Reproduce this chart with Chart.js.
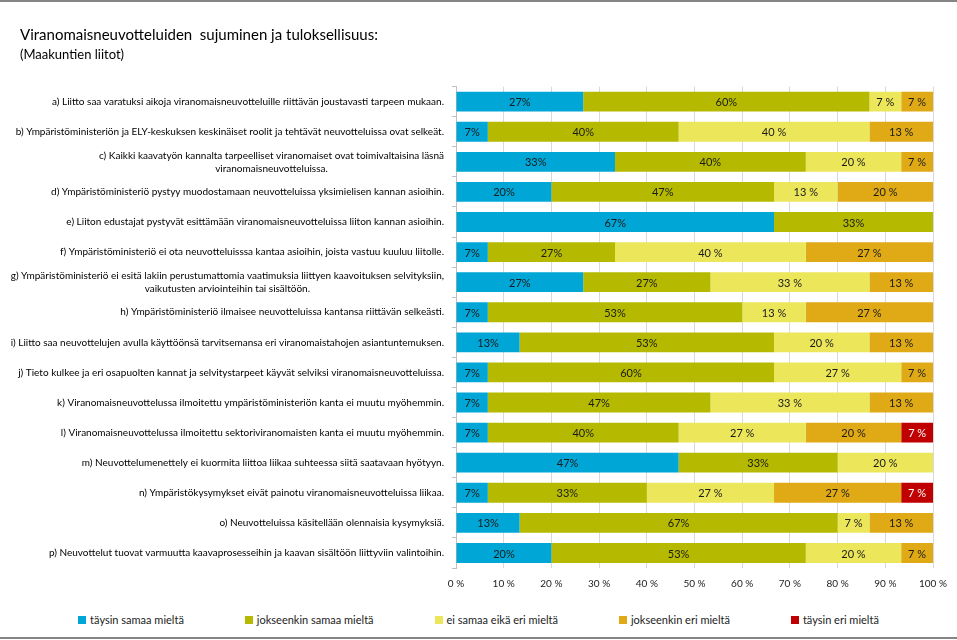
<!DOCTYPE html>
<html>
<head>
<meta charset="utf-8">
<script src="https://cdn.jsdelivr.net/npm/chart.js@4.4.1/dist/chart.umd.min.js"></script>
<style>
  body { margin: 0; background: #fff; }
  #wrap { position: relative; width: 957px; height: 640px; overflow: hidden; font-family: Lato, sans-serif; }
  .rule { position: absolute; left: 0; width: 957px; height: 2px; background: #858585; }
  #legend { position: absolute; top: 613px; left: 0; width: 957px; display: flex; justify-content: center; gap: 61px; font-size: 11px; color: #222; }
  #legend span.box { display: inline-block; width: 8px; height: 8px; margin-right: 4px; }
</style>
</head>
<body>
<div id="wrap">
  <div class="rule" style="top:0"></div>
  <canvas id="chart" width="957" height="600"></canvas>
  <div id="legend"></div>
  <div class="rule" style="top:637px"></div>
</div>
<script>
// kysymykset (kaksiriviset taulukkona)
const categories = [
  'a) Liitto saa varatuksi aikoja viranomaisneuvotteluille riittävän joustavasti tarpeen mukaan.',
  'b) Ympäristöministeriön ja ELY-keskuksen keskinäiset roolit ja tehtävät neuvotteluissa ovat selkeät.',
  ['c) Kaikki kaavatyön kannalta tarpeelliset viranomaiset ovat toimivaltaisina läsnä', 'viranomaisneuvotteluissa.'],
  'd) Ympäristöministeriö pystyy muodostamaan neuvotteluissa yksimielisen kannan asioihin.',
  'e) Liiton edustajat pystyvät esittämään viranomaisneuvotteluissa liiton kannan asioihin.',
  'f) Ympäristöministeriö ei ota neuvotteluisssa kantaa asioihin, joista vastuu kuuluu liitolle.',
  ['g) Ympäristöministeriö ei esitä lakiin perustumattomia vaatimuksia liittyen kaavoituksen selvityksiin,', 'vaikutusten arviointeihin tai sisältöön.'],
  'h) Ympäristöministeriö ilmaisee neuvotteluissa kantansa riittävän selkeästi.',
  'i) Liitto saa neuvottelujen avulla käyttöönsä tarvitsemansa eri viranomaistahojen asiantuntemuksen.',
  'j) Tieto kulkee ja eri osapuolten kannat ja selvitystarpeet käyvät selviksi viranomaisneuvotteluissa.',
  'k) Viranomaisneuvottelussa ilmoitettu ympäristöministeriön kanta ei muutu myöhemmin.',
  'l) Viranomaisneuvottelussa ilmoitettu sektoriviranomaisten kanta ei muutu myöhemmin.',
  'm) Neuvottelumenettely ei kuormita liittoa liikaa suhteessa siitä saatavaan hyötyyn.',
  'n) Ympäristökysymykset eivät painotu viranomaisneuvotteluissa liikaa.',
  'o) Neuvotteluissa käsitellään olennaisia kysymyksiä.',
  'p) Neuvottelut tuovat varmuutta kaavaprosesseihin ja kaavan sisältöön liittyviin valintoihin.'
];

const seriesNames = ['täysin samaa mieltä', 'jokseenkin samaa mieltä', 'ei samaa eikä eri mieltä', 'jokseenkin eri mieltä', 'täysin eri mieltä'];
const seriesColors = ['#00A6D6', '#B5BA00', '#ECE65A', '#E0A916', '#C00000'];

// osuudet %
const taysinSamaa     = [26.67, 6.67, 33.33, 20, 66.67, 6.67, 26.67, 6.67, 13.33, 6.67, 6.67, 6.67, 46.67, 6.67, 13.33, 20];
const jokseenkinSamaa = [60, 40, 40, 46.67, 33.33, 26.67, 26.67, 53.33, 53.33, 60, 46.67, 40, 33.33, 33.33, 66.67, 53.33];
const eiSamaaEiEri    = [6.67, 40, 20, 13.33, 0, 40, 33.33, 13.33, 20, 26.67, 33.33, 26.67, 20, 26.67, 6.67, 20];
const jokseenkinEri   = [6.66, 13.33, 6.67, 20, 0, 26.66, 13.33, 26.67, 13.34, 6.66, 13.34, 20, 0, 26.66, 13.33, 6.67];
const taysinEri       = [0, 0, 0, 0, 0, 0, 0, 0, 0, 0, 0, 6.67, 0, 6.67, 0, 0];

const tickLabels = ['0 %', '10 %', '20 %', '30 %', '40 %', '50 %', '60 %', '70 %', '80 %', '90 %', '100 %'];

const allSeries = [taysinSamaa, jokseenkinSamaa, eiSamaaEiEri, jokseenkinEri, taysinEri];

// HTML-selite
const legendEl = document.getElementById('legend');
seriesNames.forEach((name, i) => {
  const item = document.createElement('div');
  item.innerHTML = '<span class="box" style="background:' + seriesColors[i] + '"></span>' + name;
  legendEl.appendChild(item);
});

// kysymystekstit vasemmalle (kaksiriviset keskitetään)
const categoryLabels = {
  id: 'categoryLabels',
  afterDraw(chart) {
    const ctx = chart.ctx;
    const yScale = chart.scales.y;
    const right = chart.chartArea.left - 12;
    ctx.save();
    ctx.font = '10px Lato';
    ctx.fillStyle = '#000';
    ctx.textBaseline = 'middle';
    ctx.textAlign = 'center';
    categories.forEach((cat, i) => {
      const lines = Array.isArray(cat) ? cat : [cat];
      const w = Math.max(...lines.map(l => ctx.measureText(l).width));
      const cx = right - w / 2;
      const y0 = yScale.getPixelForValue(i) - (lines.length - 1) * 13 / 2;
      lines.forEach((l, j) => ctx.fillText(l, cx, y0 + j * 13));
    });
    ctx.restore();
  }
};

// arvot palkkeihin
const barValues = {
  id: 'barValues',
  afterDatasetsDraw(chart) {
    const ctx = chart.ctx;
    ctx.save();
    ctx.font = '11px Lato';
    ctx.textAlign = 'center';
    ctx.textBaseline = 'middle';
    chart.data.datasets.forEach((ds, di) => {
      const meta = chart.getDatasetMeta(di);
      meta.data.forEach((bar, i) => {
        const v = ds.data[i];
        if (!v) return;
        const p = bar.getCenterPoint();
        ctx.fillStyle = di === 4 ? '#fff' : '#1a1a1a';
        const txt = Math.round(v) + (di < 2 ? '%' : ' %');
        ctx.fillText(txt, p.x, p.y + 1);
      });
    });
    ctx.restore();
  }
};

new Chart(document.getElementById('chart'), {
  type: 'bar',
  data: {
    labels: categories,
    datasets: allSeries.map((d, i) => ({
      label: seriesNames[i],
      data: d,
      backgroundColor: seriesColors[i],
      borderWidth: 0,
      barPercentage: 0.66,
      categoryPercentage: 1
    }))
  },
  options: {
    indexAxis: 'y',
    responsive: false,
    animation: false,
    layout: { padding: { left: 20, right: 21, top: 0, bottom: 0 } },
    plugins: {
      legend: { display: false },
      tooltip: { enabled: false },
      title: {
        display: true,
        text: 'Viranomaisneuvotteluiden  sujuminen ja tuloksellisuus:',
        align: 'start',
        color: '#000',
        font: { family: 'Lato', size: 15, weight: 'normal' },
        padding: { top: 26, bottom: 2 }
      },
      subtitle: {
        display: true,
        text: '(Maakuntien liitot)',
        align: 'start',
        color: '#000',
        font: { family: 'Lato', size: 13, weight: 'normal' },
        padding: { top: 1, bottom: 24 }
      }
    },
    scales: {
      x: {
        stacked: true,
        min: 0,
        max: 100,
        ticks: {
          stepSize: 10,
          padding: 10,
          color: '#222',
          font: { family: 'Lato', size: 10 },
          callback: (v, i) => tickLabels[i]
        },
        grid: { color: '#D9D9D9', drawTicks: false },
        border: { display: false }
      },
      y: {
        stacked: true,
        ticks: { display: false },
        grid: { drawOnChartArea: false, color: '#BFBFBF', tickLength: 4 },
        border: { color: '#BFBFBF' },
        afterFit: (s) => { s.width = 436; }
      }
    }
  },
  plugins: [categoryLabels, barValues]
});
</script>
</body>
</html>
